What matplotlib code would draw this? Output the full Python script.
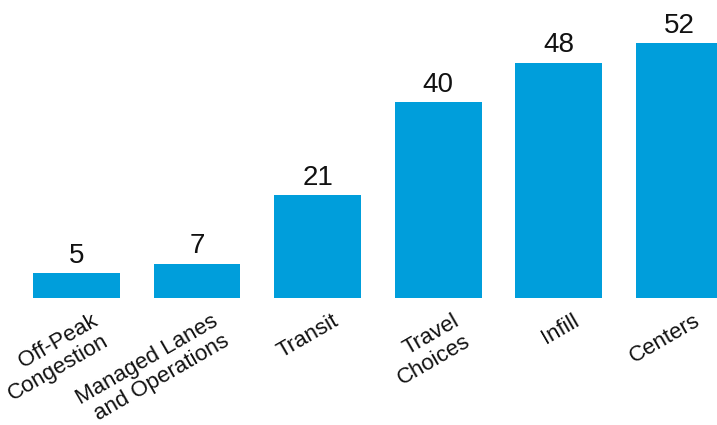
import matplotlib
matplotlib.use("Agg")
import matplotlib.pyplot as plt
import matplotlib.transforms as mtransforms

categories = ["Off-Peak\nCongestion", "Managed Lanes\nand Operations", "Transit",
              "Travel\nChoices", "Infill", "Centers"]
values = [5, 7, 21, 40, 48, 52]

BAR_COLOR = "#009EDB"

plt.rcParams["font.family"] = ["Liberation Sans", "DejaVu Sans"]

W, H, DPI = 717, 425, 100
fig = plt.figure(figsize=(W / DPI, H / DPI), dpi=DPI)

# plot area: baseline 127 px above the bottom edge, full width
ax = fig.add_axes([0, 127 / H, 1, 298 / H])
x = list(range(len(categories)))
ax.bar(x, values, width=0.72, color=BAR_COLOR)
ax.set_xlim(-0.634, 5.311)
ax.set_ylim(0, 60.8)

for xi, v in zip(x, values):
    ax.annotate(str(v), (xi, v), xytext=(0, 7.5), textcoords="offset points",
                ha="center", va="baseline", fontsize=20, color="#111111")

ax.set_xticks(x)
ax.set_xticklabels(categories, rotation=30, ha="right", va="top",
                   rotation_mode="anchor", fontsize=16, multialignment="right",
                   color="#111111", linespacing=1.15)
ax.tick_params(axis="x", length=0, pad=9)
shift = mtransforms.ScaledTranslation(14 / DPI, 0, fig.dpi_scale_trans)
for lbl in ax.get_xticklabels():
    lbl.set_transform(lbl.get_transform() + shift)

ax.set_yticks([])
for s in ax.spines.values():
    s.set_visible(False)

fig.savefig("out.png", dpi=DPI)
